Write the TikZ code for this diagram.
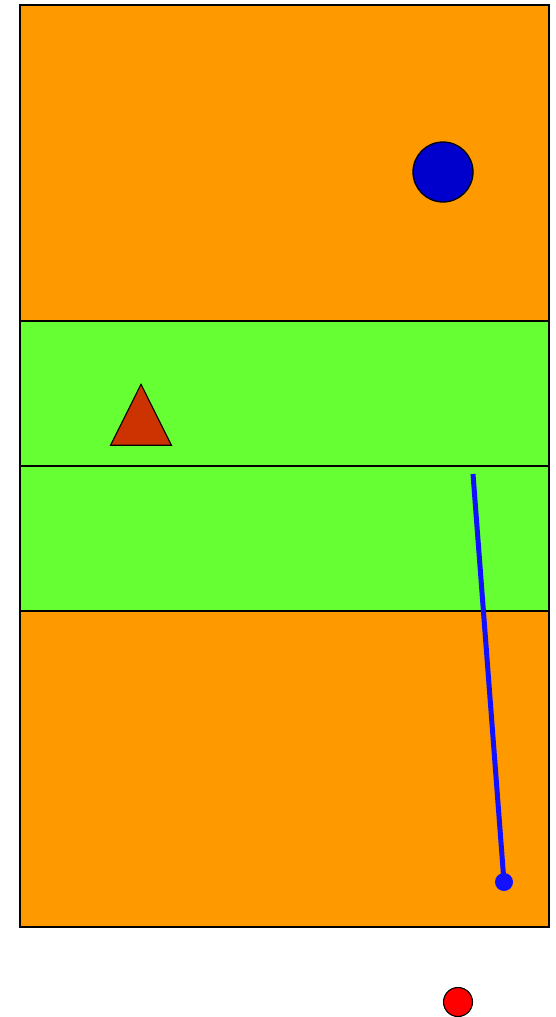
\documentclass[tikz,border=0pt]{standalone}
\usetikzlibrary{shapes.geometric}
\definecolor{fieldorange}{HTML}{FF9900}
\definecolor{fieldgreen}{HTML}{66FF33}
\definecolor{puckblue}{HTML}{0000CC}
\definecolor{conered}{HTML}{CC3300}
\definecolor{pathblue}{HTML}{1111FF}
\begin{document}
\begin{tikzpicture}[
  x=1pt, y=-1pt,
  zone/.style={draw=black, line width=1.3pt, minimum width=529pt, inner sep=0pt, outer sep=0pt},
  endzone/.style={zone, fill=fieldorange, minimum height=316pt},
  midzone/.style={zone, fill=fieldgreen, minimum height=145pt},
  ball/.style={circle, draw=black, line width=1.3pt, fill=puckblue, minimum size=60pt, inner sep=0pt},
  cone/.style={isosceles triangle, isosceles triangle apex angle=53, shape border rotate=90, draw=black, line width=1.1pt, fill=conered, minimum height=61pt, inner sep=0pt},
  marker/.style={circle, fill=pathblue, minimum size=18pt, inner sep=0pt},
  spot/.style={circle, draw=black, line width=1.1pt, fill=red, minimum size=29pt, inner sep=0pt},
  track/.style={pathblue, line width=5pt}
]
\useasboundingbox (0,0) rectangle (555,1017);

% Field zones, top to bottom
\node[endzone, anchor=north west] (top) at (20,5) {};
\node[midzone, anchor=north west] (upper) at (top.south west) {};
\node[midzone, anchor=north west] (lower) at (upper.south west) {};
\node[endzone, anchor=north west] (bottom) at (lower.south west) {};

% Pieces
\node[ball] (blueball) at (443,172) {};
\node[cone, anchor=apex] (cone) at (141,383) {};

% Path and its end marker
\coordinate (start) at (473,474);
\node[marker] (stop) at (504,882) {};
\draw[track] (start) -- (stop.center);

% Outside the field
\node[spot] (redspot) at (458,1002) {};

\end{tikzpicture}
\end{document}
